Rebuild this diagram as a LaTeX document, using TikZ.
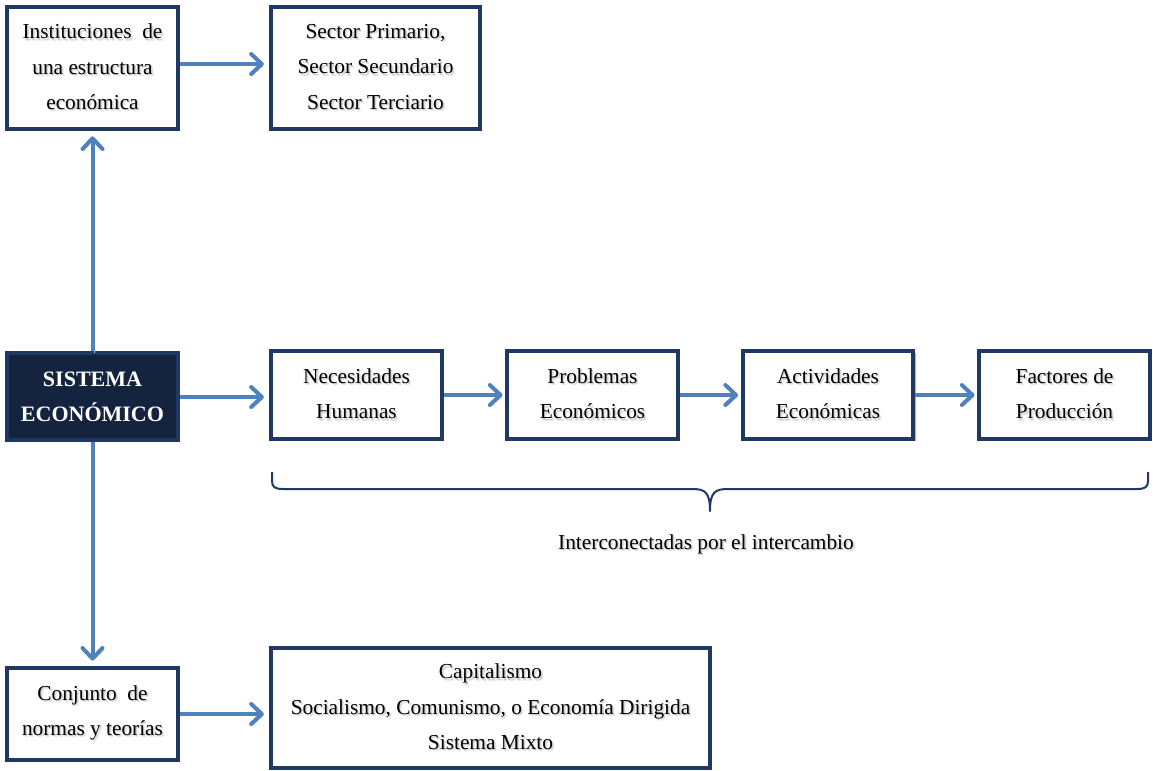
\documentclass[tikz,border=0pt]{standalone}
\usepackage{fontspec}
\setmainfont{Liberation Serif}
\usetikzlibrary{arrows.meta,shadows}
\definecolor{navy}{HTML}{1F3864}
\definecolor{navyfill}{HTML}{14243F}
\definecolor{arrowblue}{HTML}{4F81BD}
% soft grey shadow behind a line of text
\newcommand\tsh[1]{\makebox[0pt][l]{\color{black!9}\hspace{1.6pt}\raisebox{-1.6pt}{#1}}%
  \makebox[0pt][l]{\color{black!18}\hspace{0.9pt}\raisebox{-0.9pt}{#1}}#1}
\begin{document}
\begin{tikzpicture}[x=0.75pt,y=-0.75pt,
  box/.style={draw=navy, line width=3pt, fill=white, align=center, inner sep=0pt,
    font=\fontsize{16}{26.5}\selectfont,
    drop shadow={shadow xshift=1.8pt, shadow yshift=-1.8pt, opacity=0.3, fill=black}},
  darkbox/.style={box, fill=navyfill, text=white, font=\bfseries\fontsize{16.5}{26.5}\selectfont},
  arr/.style={draw=arrowblue, line width=3pt,
    -{Straight Barb[length=8pt, width=15pt, line width=3pt, round]}, shorten >=2pt,
    preaction={draw=black!15, transform canvas={shift={(1.2pt,-1.2pt)}}}},
  brace/.style={draw=navy, line width=1.5pt, line join=round},
  lbl/.style={font=\fontsize{16}{18}\selectfont, inner sep=0pt}]
\useasboundingbox (0,0) rectangle (1153,771);

% boxes
\node[box, minimum width=128pt, minimum height=91.5pt] (inst) at (92.5,68)
  {\tsh{Instituciones\ \ de}\\ \tsh{una estructura}\\ \tsh{económica}};
\node[box, minimum width=156.5pt, minimum height=91.5pt] (sector) at (375.5,68)
  {\tsh{Sector Primario,}\\ \tsh{Sector Secundario}\\ \tsh{Sector Terciario}};
\node[darkbox, minimum width=128pt, minimum height=65pt] (sis) at (92.5,396.5)
  {SISTEMA\\ ECONÓMICO};
\node[box, minimum width=128pt, minimum height=66pt] (nec) at (356.5,395)
  {\tsh{Necesidades}\\ \tsh{Humanas}};
\node[box, minimum width=128pt, minimum height=66pt] (prob) at (592.5,395)
  {\tsh{Problemas}\\ \tsh{Económicos}};
\node[box, minimum width=128pt, minimum height=66pt] (act) at (828,395)
  {\tsh{Actividades}\\ \tsh{Económicas}};
\node[box, minimum width=128pt, minimum height=66pt] (fac) at (1064.5,395)
  {\tsh{Factores de}\\ \tsh{Producción}};
\node[box, minimum width=128pt, minimum height=69pt] (conj) at (92.5,714)
  {\tsh{Conjunto\ \ de}\\ \tsh{normas y teorías}};
\node[box, minimum width=329pt, minimum height=90pt] (cap) at (490.5,708)
  {\tsh{Capitalismo}\\ \tsh{Socialismo, Comunismo, o Economía Dirigida}\\ \tsh{Sistema Mixto}};

% connectors
\draw[arr, shorten >=4pt] (inst.east |- 0,64) -- (sector.west |- 0,64);
\draw[arr, shorten >=4pt] (sis.north) -- (inst.south);
\draw[arr, shorten >=4pt] (sis.south) -- (conj.north);
\draw[arr, shorten >=4pt] (sis.east |- 0,397) -- (nec.west |- 0,397);
\draw[arr] (nec) -- (prob);
\draw[arr] (prob) -- (act);
\draw[arr] (act) -- (fac);
\draw[arr, shorten >=4pt] (conj.east) -- (conj.east -| cap.west);

% brace under the chain
\coordinate (bl) at (272,472);
\coordinate (br) at (1148,472);
\coordinate (tip) at (710,511);
\draw[brace] (bl) -- (272,481) .. controls (272,487) and (275,489) .. (283,489)
  -- (692,489) .. controls (705,489) and (710,492) .. (tip)
  .. controls (710,492) and (715,489) .. (728,489)
  -- (1137,489) .. controls (1145,489) and (1148,487) .. (1148,481) -- (br);
\node[lbl] (inter) at (706,545) {\tsh{Interconectadas\ por el intercambio}};
\end{tikzpicture}
\end{document}
